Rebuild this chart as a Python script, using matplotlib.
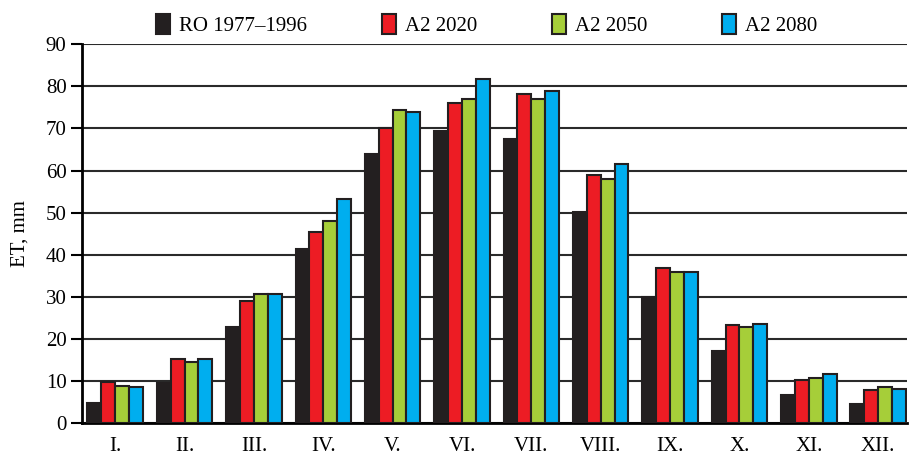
import numpy as np
from matplotlib import pyplot as plt

months = ['I.', 'II.', 'III.', 'IV.', 'V.', 'VI.', 'VII.', 'VIII.', 'IX.', 'X.', 'XI.', 'XII.']
ro_1977_1996 = [4.7, 9.6, 22.9, 41.3, 64.0, 69.4, 67.6, 50.1, 30.0, 17.1, 6.7, 4.5]
a2_2020 = [9.7, 15.2, 29.0, 45.4, 70.0, 76.0, 78.3, 59.0, 36.8, 23.4, 10.3, 7.8]
a2_2050 = [8.9, 14.6, 30.8, 48.0, 74.5, 77.1, 77.1, 58.0, 36.0, 22.9, 10.8, 8.7]
a2_2080 = [8.6, 15.2, 30.6, 53.2, 73.8, 81.7, 79.0, 61.6, 35.8, 23.6, 11.7, 8.2]

series = [
    ('RO 1977\u20131996', ro_1977_1996, '#231f20'),
    ('A2 2020', a2_2020, '#ed1c24'),
    ('A2 2050', a2_2050, '#a6ce39'),
    ('A2 2080', a2_2080, '#00aeef'),
]

plt.rcParams['font.family'] = ['Liberation Serif', 'DejaVu Serif']

fig = plt.figure(figsize=(9.1, 4.61), dpi=100)
ax = fig.add_axes([0.090, 0.082, 0.907, 0.822])

x = np.arange(len(months))
w = 0.2
for i, (label, vals, color) in enumerate(series):
    ax.bar(x + (i - 1.5) * w, vals, width=w, color=color, edgecolor='#231f20',
           linewidth=1.5, label=label, zorder=3)

ax.set_ylim(0, 90)
ax.set_xlim(-0.48, 11.42)
ax.set_yticks(range(0, 91, 10))
ax.set_xticks(x)
ax.set_xticklabels(months)
ax.yaxis.grid(True, color='#2a2a2a', linewidth=1.5, zorder=0)
ax.set_axisbelow(True)
ax.tick_params(axis='y', length=8, width=1.5, labelsize=15, pad=3)
ax.tick_params(axis='x', length=0, labelsize=15, pad=10)
for s in ['top', 'right']:
    ax.spines[s].set_visible(False)
ax.spines['left'].set_linewidth(2)
ax.spines['bottom'].set_linewidth(2)
ax.set_ylabel('ET, mm', fontsize=15, labelpad=12)

fig.legend(loc='upper center', bbox_to_anchor=(0.535, 1.01), ncol=4, frameon=False,
           fontsize=15, handlelength=0.65, handleheight=1.1, handletextpad=0.45,
           columnspacing=3.6)

fig.savefig('out.png', dpi=100)
